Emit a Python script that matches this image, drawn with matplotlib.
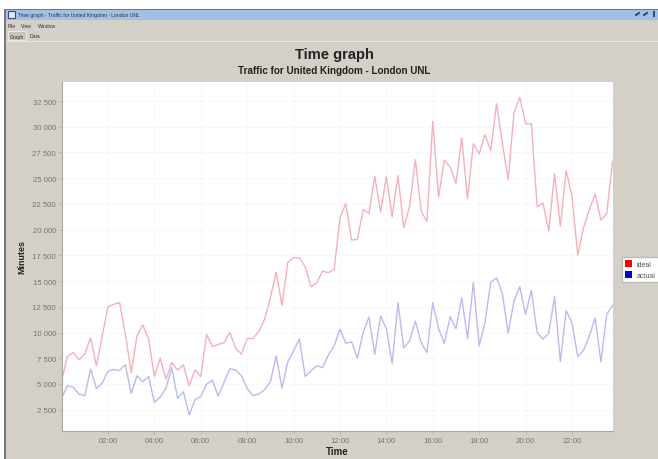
import matplotlib
matplotlib.use("Agg")
import matplotlib.pyplot as plt
from matplotlib.patches import Patch, Rectangle

plt.rcParams['font.family'] = ['Liberation Sans', 'DejaVu Sans']

# one value every 15 minutes
ideal = [5310, 7670, 8060, 7350, 7900, 9500, 6760, 9670, 12510, 12740, 12900, 9830,
         6120, 9670, 10740, 9350, 5730, 7500, 5470, 7090, 6340, 6860, 4830, 6380,
         5730, 9830, 8640, 8830, 9020, 10000, 8480, 7900, 9410, 9410, 10090, 11290,
         13380, 15870, 12640, 16800, 17300, 17250, 16400, 14450, 14840, 15970, 15820, 16140,
         21150, 22540, 18990, 19050, 21960, 21570, 25190, 21700, 25190, 21250, 25250, 20180,
         22280, 26800, 21800, 20800, 30520, 23180, 26740, 26090, 24480, 28900, 22990, 28350,
         27350, 29220, 27700, 32230, 28420, 24860, 31320, 32870, 30290, 30290, 22220, 22600,
         19860, 25410, 20340, 25740, 23250, 17530, 20180, 21960, 23480, 20920, 21570, 26640]
actual = [3600, 4830, 4700, 4020, 3860, 6440, 4570, 5080, 6250, 6410, 6310, 6860,
          4080, 5790, 5210, 5730, 3210, 3730, 4600, 6570, 3600, 4240, 1980, 3470,
          3790, 4990, 5370, 3820, 5150, 6470, 6380, 5790, 4570, 3860, 4020, 4440,
          5210, 7730, 4600, 7150, 8220, 9380, 5730, 6280, 6760, 6600, 7800, 8700,
          10320, 8960, 9090, 7500, 10000, 11510, 7860, 11610, 10380, 6990, 12900, 8510,
          9190, 11120, 9020, 8060, 12900, 10380, 8960, 11540, 10380, 13380, 9410, 14840,
          8700, 10960, 14900, 15320, 13800, 9930, 13060, 14450, 11770, 14100, 10000, 9350,
          9930, 13480, 7180, 12130, 10960, 7670, 8280, 9670, 11410, 7150, 11770, 12640]
hours = [i / 4 for i in range(96)]

y_ticks = [2500, 5000, 7500, 10000, 12500, 15000, 17500, 20000, 22500, 25000, 27500, 30000, 32500]
y_labels = ["2 500", "5 000", "7 500", "10 000", "12 500", "15 000", "17 500",
            "20 000", "22 500", "25 000", "27 500", "30 000", "32 500"]
x_ticks = [2, 4, 6, 8, 10, 12, 14, 16, 18, 20, 22]
x_labels = ["02:00", "04:00", "06:00", "08:00", "10:00", "12:00", "14:00", "16:00", "18:00", "20:00", "22:00"]

W, H = 658, 460
BG = "#d4d0c8"

fig = plt.figure(figsize=(W / 100, H / 100), dpi=100, facecolor="white")

# window chrome, in pixels
chrome = fig.add_axes([0, 0, 1, 1])
chrome.set_xlim(0, W)
chrome.set_ylim(H, 0)
chrome.axis("off")
chrome.add_patch(Rectangle((5, 10), W - 5, H - 10, fc=BG, ec="none"))
chrome.add_patch(Rectangle((4, 10), 2, H - 10, fc="#77777c", ec="none"))
chrome.add_patch(Rectangle((6, 11), W - 6, 10, fc="#a3c1e6", ec="none"))
chrome.add_patch(Rectangle((5, 10), W - 5, 1, fc="#6f7680", ec="none"))
chrome.add_patch(Rectangle((8, 12), 7, 7, fc="#dfe8f5", ec="#33507f", lw=0.8))
chrome.text(18, 16, "Time graph - Traffic for United Kingdom - London UNL", fontsize=3.6, color="#333333", va="center")
chrome.text(8, 26.5, "File", fontsize=3.6, color="#333333", va="center")
chrome.text(21, 26.5, "View", fontsize=3.6, color="#333333", va="center")
chrome.text(38, 26.5, "Window", fontsize=3.6, color="#333333", va="center")
chrome.add_patch(Rectangle((8, 32), 18, 9, fc="#c9c5bc", ec="#eeeeea", lw=0.6))
chrome.text(10, 37, "Graph", fontsize=3.6, color="#333333", va="center")
chrome.text(30, 37, "Data", fontsize=3.6, color="#333333", va="center")
chrome.plot([6, W], [42, 42], color="#e8e6e0", lw=0.7)
chrome.plot([636, 639], [16, 14], color="#2f4f80", lw=1.5)
chrome.plot([644, 647], [16, 14], color="#2f4f80", lw=1.5)
chrome.plot([654, 654], [13, 17], color="#2f4f80", lw=1.5)

chrome.text(334.5, 55, "Time graph", fontsize=10.6, fontweight="bold", color="#222222", ha="center", va="center")
chrome.text(334.5, 71.5, "Traffic for United Kingdom - London UNL", fontsize=7.1, fontweight="bold", color="#222222", ha="center", va="center")

ax = fig.add_axes([61.6 / W, 1 - 432 / H, (613 - 61.6) / W, (432 - 83) / H], facecolor="white")
ax.plot(hours, ideal, color="#f5b0b9", lw=1.0, label="ideal")
ax.plot(hours, actual, color="#babaf0", lw=1.0, label="actual")

ax.set_xlim(0, 23.77)
ax.set_ylim(430, 34350)
ax.set_xticks(x_ticks, x_labels)
ax.set_yticks(y_ticks, y_labels)
ax.tick_params(labelsize=5.6, labelcolor="#777777", color="#aaaaaa", length=2, width=0.5, pad=2)
ax.grid(True, color="#f7f7f7", lw=0.6)
ax.set_axisbelow(True)
for side in ["top", "right"]:
    ax.spines[side].set_visible(False)
for side in ["left", "bottom"]:
    ax.spines[side].set_color("#a8a8a4")
    ax.spines[side].set_linewidth(0.8)

chrome.text(337, 452, "Time", fontsize=7, fontweight="bold", color="#222222", ha="center", va="center")
chrome.text(22, 257, "Minutes", fontsize=6.4, fontweight="bold", color="#222222", ha="center", va="center", rotation=90)

handles = [Patch(fc="#ff0000", label="ideal"), Patch(fc="#0000d8", label="actual")]
fig.legend(handles=handles, loc="upper left", bbox_to_anchor=(622 / W, 1 - 258 / H), fontsize=5,
           frameon=True, fancybox=False, facecolor="white", edgecolor="#bbbbbb", framealpha=1,
           borderpad=0.5, handlelength=1.0, handleheight=1.0, handletextpad=0.6, labelspacing=0.5,
           labelcolor="#555555", borderaxespad=0)

fig.savefig("out.png", dpi=100)
